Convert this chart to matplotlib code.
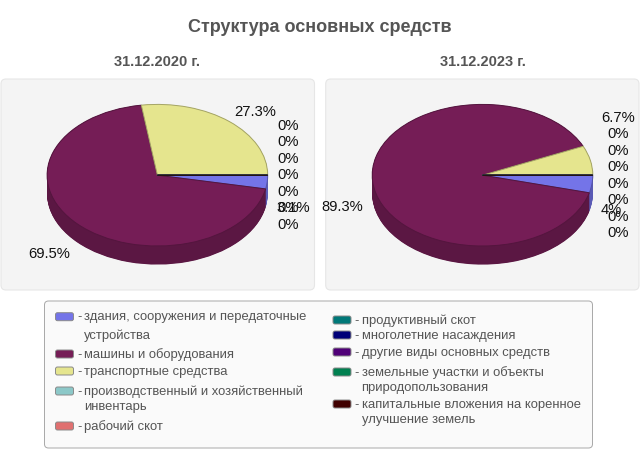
import numpy as np
import matplotlib
matplotlib.use('Agg')
import matplotlib.pyplot as plt
from matplotlib.colors import to_rgb
from matplotlib.patches import FancyBboxPatch

plt.rcParams['font.family'] = ['Liberation Sans', 'DejaVu Sans']

title = 'Структура основных средств'
dates = ['31.12.2020 г.', '31.12.2023 г.']
categories = [
    'здания, сооружения и передаточные\nустройства',
    'машины и оборудования',
    'транспортные средства',
    'производственный и хозяйственный\nинвентарь',
    'рабочий скот',
    'продуктивный скот',
    'многолетние насаждения',
    'другие виды основных средств',
    'земельные участки и объекты\nприродопользования',
    'капитальные вложения на коренное\nулучшение земель',
]
colors = ['#7474e8', '#751d56', '#e5e58e', '#8cc8c8', '#e07070',
          '#007878', '#000078', '#500078', '#008050', '#400000']
values_2020 = [3.1, 69.5, 27.3, 0, 0, 0, 0, 0, 0, 0]
values_2023 = [4, 89.3, 6.7, 0, 0, 0, 0, 0, 0, 0]

W, H = 640, 450
RX, RY, DEPTH = 110.3, 70.8, 18.6
CY = 175.2


def darker(c, k):
    return tuple(np.array(to_rgb(c)) * k)


def px_axes(x0, y0, x1, y1, zorder):
    # axes placed in pixels, y going down like in the picture
    ax = fig.add_axes([x0 / W, 1 - y1 / H, (x1 - x0) / W, (y1 - y0) / H], zorder=zorder)
    ax.patch.set_alpha(0)
    ax.axis('off')
    return ax


def pie_3d(values, cx):
    ax = px_axes(cx - RX, CY - RY, cx + RX, CY + RY + DEPTH, 1)
    # side wall: stack of darker pies going up
    for d in np.arange(DEPTH, 0, -0.5):
        ax.pie(values, colors=[darker(c, 0.78) for c in colors], startangle=0,
               counterclock=False, center=(0, -d / RY), normalize=True,
               wedgeprops={'linewidth': 0, 'clip_on': False})
    wedges, _ = ax.pie(values, colors=colors, startangle=0, counterclock=False,
                       normalize=True, wedgeprops={'clip_on': False})
    for w, c in zip(wedges, colors):
        w.set_edgecolor(darker(c, 0.72))
        w.set_linewidth(0.7)
    ax.set_aspect('auto')
    ax.set_xlim(-1, 1)
    ax.set_ylim(-1 - DEPTH / RY, 1)
    return ax


def pct(v):
    return f'{v:g}%'


fig = plt.figure(figsize=(6.4, 4.5), dpi=100)

bg = px_axes(0, 0, W, H, 0)
bg.set_xlim(0, W)
bg.set_ylim(H, 0)
top = px_axes(0, 0, W, H, 2)
top.set_xlim(0, W)
top.set_ylim(H, 0)

# panels
for x0, x1 in [(1, 314.5), (325.7, 639)]:
    bg.add_patch(FancyBboxPatch((x0 + 5, 84), x1 - x0 - 10, 201, boxstyle='round,pad=5,rounding_size=5',
                                fc='#f4f4f4', ec='#e6e6e6', lw=0.8))
bg.add_patch(FancyBboxPatch((48.5, 305), 540, 139, boxstyle='round,pad=4,rounding_size=4',
                            fc='#fafafa', ec='#a8a8a8', lw=0.7))

top.text(320, 27.5, title, fontsize=13, fontweight='bold', color='#555555', ha='center', va='center')
top.text(157.5, 62, dates[0], fontsize=10.5, fontweight='bold', color='#555555', ha='center', va='center')
top.text(482.5, 62, dates[1], fontsize=10.5, fontweight='bold', color='#555555', ha='center', va='center')

pie_3d(values_2020, 157.4)
pie_3d(values_2023, 482.5)

# slice labels, placed as in the picture
label_xy_2020 = [(276.5, 208), (28.5, 253.7), (234.5, 111.7), (277, 126), (277, 142),
                 (277, 158.7), (277, 174.7), (277, 191.7), (277, 208), (277, 224.7)]
label_xy_2023 = [(600.5, 210), (321.5, 207), (601.5, 117.7), (607.5, 133.7), (607.5, 151),
                 (607.5, 167), (607.5, 184), (607.5, 200), (607.5, 217), (607.5, 233)]
for vals, xy in [(values_2020, label_xy_2020), (values_2023, label_xy_2023)]:
    for v, (x, y) in zip(vals, xy):
        top.text(x, y, pct(v), fontsize=10.6, color='#111111', ha='left', va='center')

# legend
legend_y = [316.7, 354, 371, 391, 426, 320, 335, 352, 372, 404]
for i, (cat, c, y) in enumerate(zip(categories, colors, legend_y)):
    x = 55.5 if i < 5 else 333
    top.add_patch(FancyBboxPatch((x + 1.5, y - 2.5), 15, 5, boxstyle='round,pad=1.5,rounding_size=2',
                                 fc=c, ec='#8a8a8a', lw=0.7))
    top.text(x + 21.5, y + 0.6, '-', fontsize=9.4, color='#555555', ha='left', va='center')
    lines = cat.split('\n')
    gap = 18 if i == 0 else 15
    for k, line in enumerate(lines):
        top.text(x + 28.5, y + 0.6 + k * gap, line, fontsize=9.4, color='#555555', ha='left', va='center')

fig.savefig('out.png', dpi=100)
